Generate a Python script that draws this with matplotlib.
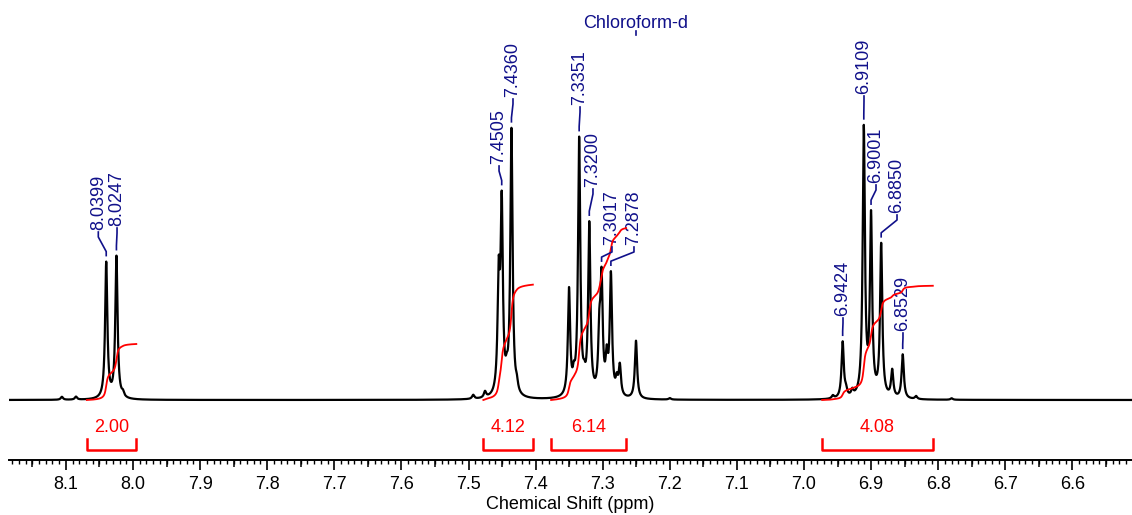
import numpy as np
import matplotlib
matplotlib.use("Agg")
import matplotlib.pyplot as plt
from matplotlib.ticker import MultipleLocator, NullLocator, FormatStrFormatter

plt.rcParams['font.family'] = ['Liberation Sans', 'DejaVu Sans']

# ----------------------------------------------------------------------------
# Peak list (ppm, apex height in arbitrary units)
peak_ppm = [8.1060, 8.0850, 8.0399, 8.0247, 8.0150,
            7.4930, 7.4754, 7.4550, 7.4505, 7.4430, 7.4360, 7.4280,
            7.3502, 7.3430, 7.3351, 7.3275, 7.3200, 7.3050, 7.3017,
            7.2940, 7.2878, 7.2790, 7.2745, 7.2504, 7.2000,
            6.9570, 6.9424, 6.9375, 6.9280, 6.9109, 6.9001, 6.8850,
            6.8686, 6.8529, 6.8330, 6.7800]
peak_height = [3, 3, 136, 142, 4,
               4, 6, 110, 185, 12, 266, 8,
               106, 14, 256, 10, 170, 55, 110,
               33, 120, 14, 30, 58, 1.5,
               3, 56, 6, 6, 268, 178, 152,
               27, 44, 3, 1.5]
line_width = 0.0020   # Lorentzian half width (ppm)

# labelled peaks: value, text position (ppm) and text bottom
label_ppm = [8.0399, 8.0247, 7.4505, 7.4360, 7.3351, 7.3200, 7.3017,
             7.2878, 6.9424, 6.9109, 6.9001, 6.8850, 6.8529]
label_text_x = [8.0517, 8.0238, 7.4545, 7.4337, 7.3338, 7.3145, 7.2862,
                7.2534, 6.9419, 6.9106, 6.8927, 6.8614, 6.8525]
label_text_y = [170, 174, 236, 303, 295, 213, 155, 155, 84, 306, 217, 187, 69]

# integration regions
integral_start = [8.069, 7.478, 7.377, 6.973]
integral_end = [7.995, 7.404, 7.265, 6.808]
integral_value = [2.00, 4.12, 6.14, 4.08]

solvent_ppm = 7.2504
solvent_name = "Chloroform-d"

x_ticks = [8.1, 8.0, 7.9, 7.8, 7.7, 7.6, 7.5, 7.4, 7.3, 7.2, 7.1, 7.0,
           6.9, 6.8, 6.7, 6.6]

# ----------------------------------------------------------------------------
# Spectrum from the peak list
ppm = np.linspace(8.19, 6.50, 12000)
spec = np.zeros_like(ppm)
for p, h in zip(peak_ppm, peak_height):
    spec += h * line_width**2 / (line_width**2 + (ppm - p)**2)

navy = '#10108a'
red = '#ff0000'

fig = plt.figure(figsize=(11.32, 5.15), dpi=100)
ax = fig.add_axes([9/1132, 55/515, 1 - 9/1132, 460/515])

ax.plot(ppm, spec, color='black', lw=1.6, zorder=3)

# integral curves and brackets
scale = 28.0
for s, e, v in zip(integral_start, integral_end, integral_value):
    m = (ppm <= s) & (ppm >= e)
    c = np.cumsum(spec[m])
    c = c / c[-1] * v * scale
    ax.plot(ppm[m], c, color=red, lw=1.3, zorder=4)
    ax.plot([s, s, e, e], [-39, -50, -50, -39], color=red, lw=1.8,
            clip_on=False)
    ax.text((s + e) / 2, -28, '%.2f' % v, color=red, fontsize=13,
            ha='center', va='center')

# peak labels with leaders
for p, tx, ty in zip(label_ppm, label_text_x, label_text_y):
    h = spec[np.argmin(np.abs(ppm - p))]
    y0 = h + 6
    y1 = y0 + 4
    y3 = ty - 2
    y2 = max(y1, ty - 7)
    ax.plot([p, p, tx, tx], [y0, y1, y2, y3], color=navy, lw=1.2, zorder=5)
    ax.text(tx, ty, '%.4f' % p, rotation=90, color=navy, fontsize=13,
            ha='center', va='bottom')

# solvent label
ax.text(solvent_ppm, 372, solvent_name, color=navy, fontsize=13,
        ha='center', va='baseline')
ax.plot([solvent_ppm, solvent_ppm], [365, 369], color=navy, lw=1.2)

ax.set_xlim(8.1848, 6.5112)
ax.set_ylim(-60, 400)

for side in ['left', 'right', 'top']:
    ax.spines[side].set_visible(False)
ax.spines['bottom'].set_linewidth(1.4)
ax.set_yticks([])

ax.set_xticks(x_ticks)
ax.xaxis.set_major_formatter(FormatStrFormatter('%.1f'))
ax.xaxis.set_minor_locator(MultipleLocator(0.01))
ax.tick_params(axis='x', which='major', length=7.5, width=1.2, labelsize=13,
               pad=4)
ax.tick_params(axis='x', which='minor', length=3, width=1.0)

sec = ax.secondary_xaxis('bottom')
sec.set_xticks([x + 0.05 for x in x_ticks] + [6.55])
sec.xaxis.set_minor_locator(NullLocator())
sec.tick_params(length=5, width=1.1, labelbottom=False)
sec.spines['bottom'].set_visible(False)

ax.set_xlabel('Chemical Shift (ppm)', fontsize=13, labelpad=2)

fig.savefig('out.png', dpi=100)
